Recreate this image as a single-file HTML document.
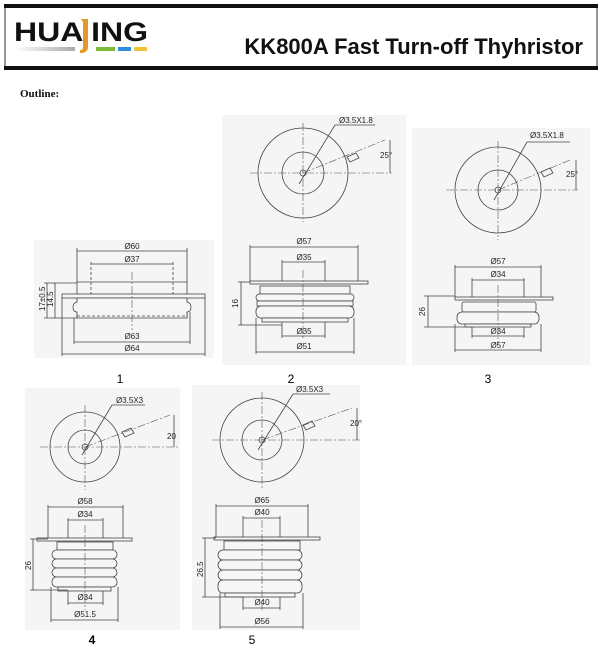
<!DOCTYPE html>
<html><head><meta charset="utf-8"><style>
html,body{margin:0;padding:0;background:#fff;width:602px;height:653px;overflow:hidden}
svg{display:block}
.d{font-family:"Liberation Sans",sans-serif;font-size:8px;fill:#222}
.s{fill:none;stroke:#444;stroke-width:0.8}
.c{fill:none;stroke:#555;stroke-width:0.6;stroke-dasharray:8 2 2 2}
.b{fill:#f6f6f6;stroke:#444;stroke-width:0.8}
.p{fill:#f5f5f5}
</style></head><body>
<svg width="602" height="653" viewBox="0 0 602 653" xmlns="http://www.w3.org/2000/svg">
<rect x="4" y="4" width="594" height="4" fill="#111"/>
<rect x="4" y="66" width="594" height="4" fill="#111"/>
<line x1="5" y1="8" x2="5" y2="66" stroke="#333" stroke-width="1"/>
<line x1="597" y1="8" x2="597" y2="66" stroke="#333" stroke-width="1"/>
<text x="14" y="41" font-family="Liberation Sans,sans-serif" font-weight="bold" font-size="27" fill="#111" textLength="134" lengthAdjust="spacingAndGlyphs">HUA ING</text>
<path d="M81 19 h7 v28 q0 5 -6 6 h-2 v-3 q3 0 3 -3 v-25 z" fill="#e39a2a"/>
<defs><linearGradient id="g" x1="0" x2="1"><stop offset="0" stop-color="#fff"/><stop offset="1" stop-color="#aaa"/></linearGradient></defs>
<rect x="15" y="47" width="60" height="4" fill="url(#g)"/>
<rect x="96" y="47" width="19" height="4" fill="#7fb93a"/>
<rect x="118" y="47" width="13" height="4" fill="#2a8fd6"/>
<rect x="134" y="47" width="13" height="4" fill="#f0c23a"/>
<text x="583" y="54" text-anchor="end" font-family="Liberation Sans,sans-serif" font-weight="bold" font-size="22" fill="#111">KK800A Fast Turn-off Thyhristor</text>
<text x="20" y="97" font-family="Liberation Serif,serif" font-weight="bold" font-size="11" fill="#111">Outline:</text>

<rect class="p" x="34" y="240" width="180" height="118"/>
<rect class="p" x="222" y="115" width="184" height="250"/>
<rect class="p" x="412" y="128" width="178" height="237"/>
<rect class="p" x="25" y="388" width="155" height="242"/>
<rect class="p" x="192" y="385" width="168" height="245"/>

<g>
<line class="s" x1="77" y1="251" x2="187" y2="251"/><line class="s" x1="77" y1="248" x2="77" y2="318"/><line class="s" x1="187" y1="248" x2="187" y2="318"/>
<text class="d" x="132" y="249" text-anchor="middle" font-size="6">Ø60</text>
<line class="s" x1="91" y1="264" x2="173" y2="264"/><line class="s" x1="91" y1="262" x2="91" y2="318" stroke-dasharray="3 2"/><line class="s" x1="173" y1="262" x2="173" y2="318" stroke-dasharray="3 2"/>
<text class="d" x="132" y="262" text-anchor="middle" font-size="6">Ø37</text>
<line class="s" x1="77" y1="282" x2="187" y2="282"/>
<rect class="b" x="62" y="294" width="143" height="4"/>
<path class="b" d="M77 298 h110 v4 q4 1 4 5 q0 5 -4 5 v6 h-110 v-6 q-4 0 -4 -5 q0 -4 4 -5 z"/>
<line class="s" x1="77" y1="316" x2="187" y2="316" stroke-dasharray="3 2"/>
<line class="c" x1="132" y1="272" x2="132" y2="330"/>
<line class="s" x1="74" y1="318" x2="74" y2="344"/><line class="s" x1="190" y1="312" x2="190" y2="344"/>
<line class="s" x1="74" y1="342" x2="190" y2="342"/><text class="d" x="132" y="339" text-anchor="middle" font-size="6">Ø63</text>
<line class="s" x1="62" y1="298" x2="62" y2="356"/><line class="s" x1="205" y1="298" x2="205" y2="356"/>
<line class="s" x1="62" y1="354" x2="205" y2="354"/><text class="d" x="132" y="351" text-anchor="middle" font-size="6">Ø64</text>
<line class="s" x1="44" y1="283" x2="77" y2="283"/><line class="s" x1="44" y1="318" x2="77" y2="318"/>
<line class="s" x1="47" y1="283" x2="47" y2="318"/><line class="s" x1="55" y1="283" x2="55" y2="318"/>
<text class="d" font-size="6" transform="translate(45,311) rotate(-90)">17±0.5</text>
<text class="d" font-size="6" transform="translate(53,307) rotate(-90)">14.5</text>
</g>
<text x="120" y="383" text-anchor="middle" font-family="Liberation Sans,sans-serif" font-size="12">1</text>

<g>
<circle class="s" cx="303" cy="173" r="45"/><circle class="s" cx="303" cy="173" r="21"/><circle class="s" cx="303" cy="173" r="3"/>
<line class="c" x1="250" y1="173" x2="392" y2="173"/><line class="c" x1="303" y1="123" x2="303" y2="222"/>
<line class="c" x1="303" y1="173" x2="385" y2="140"/>
<path class="s" d="M347 157 l9 -4 l3 5 l-9 4 z"/>
<line class="s" x1="299" y1="184" x2="335" y2="125"/><line class="s" x1="335" y1="125" x2="375" y2="125"/>
<text class="d" x="339" y="123">Ø3.5X1.8</text>
<line class="s" x1="390" y1="140" x2="390" y2="173"/>
<text class="d" x="380" y="158">25°</text>
<line class="s" x1="250" y1="247" x2="358" y2="247"/><line class="s" x1="250" y1="245" x2="250" y2="282"/><line class="s" x1="358" y1="245" x2="358" y2="282"/>
<text class="d" x="304" y="244" text-anchor="middle">Ø57</text>
<line class="s" x1="282" y1="262" x2="325" y2="262"/><line class="s" x1="282" y1="260" x2="282" y2="282"/><line class="s" x1="325" y1="260" x2="325" y2="282"/>
<text class="d" x="304" y="260" text-anchor="middle">Ø35</text>
<rect class="b" x="250" y="281" width="118" height="3"/>
<rect class="b" x="260" y="286" width="90" height="8"/>
<rect class="b" x="256" y="294" width="98" height="7" rx="3.5"/>
<rect class="b" x="257" y="301" width="96" height="5"/>
<rect class="b" x="256" y="306" width="98" height="12" rx="5"/>
<rect class="b" x="262" y="318" width="86" height="4"/>
<line class="c" x1="303" y1="270" x2="303" y2="340"/>
<line class="s" x1="238" y1="282" x2="250" y2="282"/><line class="s" x1="238" y1="325" x2="282" y2="325"/>
<line class="s" x1="241" y1="282" x2="241" y2="325"/>
<text class="d" font-size="9" transform="translate(238,308) rotate(-90)">16</text>
<line class="s" x1="282" y1="322" x2="282" y2="338"/><line class="s" x1="325" y1="322" x2="325" y2="338"/>
<line class="s" x1="282" y1="336" x2="325" y2="336"/><text class="d" x="304" y="334" text-anchor="middle">Ø35</text>
<line class="s" x1="256" y1="318" x2="256" y2="354"/><line class="s" x1="354" y1="318" x2="354" y2="354"/>
<line class="s" x1="256" y1="352" x2="354" y2="352"/><text class="d" x="304" y="349" text-anchor="middle">Ø51</text>
</g>
<text x="291" y="383" text-anchor="middle" font-family="Liberation Sans,sans-serif" font-size="12">2</text>

<g>
<circle class="s" cx="498" cy="190" r="43"/><circle class="s" cx="498" cy="190" r="20"/><circle class="s" cx="498" cy="190" r="3"/>
<line class="c" x1="446" y1="190" x2="578" y2="190"/><line class="c" x1="498" y1="141" x2="498" y2="240"/>
<line class="c" x1="498" y1="190" x2="570" y2="160"/>
<path class="s" d="M541 172 l9 -4 l3 5 l-9 4 z"/>
<line class="s" x1="494" y1="200" x2="527" y2="142"/><line class="s" x1="527" y1="142" x2="570" y2="142"/>
<text class="d" x="530" y="138">Ø3.5X1.8</text>
<line class="s" x1="576" y1="160" x2="576" y2="190"/>
<text class="d" x="566" y="177">25°</text>
<line class="s" x1="455" y1="267" x2="541" y2="267"/><line class="s" x1="455" y1="265" x2="455" y2="297"/><line class="s" x1="541" y1="265" x2="541" y2="297"/>
<text class="d" x="498" y="264" text-anchor="middle">Ø57</text>
<line class="s" x1="472" y1="280" x2="524" y2="280"/><line class="s" x1="472" y1="278" x2="472" y2="297"/><line class="s" x1="524" y1="278" x2="524" y2="297"/>
<text class="d" x="498" y="277" text-anchor="middle">Ø34</text>
<rect class="b" x="455" y="297" width="98" height="3"/>
<rect class="b" x="462" y="302" width="74" height="10" rx="2"/>
<rect class="b" x="457" y="312" width="82" height="12" rx="5"/>
<rect class="b" x="465" y="324" width="66" height="3"/>
<line class="c" x1="498" y1="285" x2="498" y2="345"/>
<line class="s" x1="424" y1="296" x2="455" y2="296"/><line class="s" x1="424" y1="327" x2="472" y2="327"/>
<line class="s" x1="428" y1="296" x2="428" y2="327"/>
<text class="d" font-size="9" transform="translate(425,316) rotate(-90)">26</text>
<line class="s" x1="472" y1="327" x2="472" y2="338"/><line class="s" x1="524" y1="327" x2="524" y2="338"/>
<line class="s" x1="472" y1="336" x2="524" y2="336"/><text class="d" x="498" y="334" text-anchor="middle">Ø34</text>
<line class="s" x1="455" y1="324" x2="455" y2="352"/><line class="s" x1="541" y1="324" x2="541" y2="352"/>
<line class="s" x1="455" y1="350" x2="541" y2="350"/><text class="d" x="498" y="348" text-anchor="middle">Ø57</text>
</g>
<text x="488" y="383" text-anchor="middle" font-family="Liberation Sans,sans-serif" font-size="12">3</text>

<g>
<circle class="s" cx="85" cy="447" r="35"/><circle class="s" cx="85" cy="447" r="17"/><circle class="s" cx="85" cy="447" r="3"/>
<line class="c" x1="40" y1="447" x2="178" y2="447"/><line class="c" x1="85" y1="405" x2="85" y2="490"/>
<line class="c" x1="85" y1="447" x2="170" y2="415"/>
<path class="s" d="M122 432 l9 -4 l3 5 l-9 4 z"/>
<line class="s" x1="82" y1="455" x2="112" y2="405"/><line class="s" x1="112" y1="405" x2="145" y2="405"/>
<text class="d" x="116" y="403" font-size="7">Ø3.5X3</text>
<line class="s" x1="174" y1="415" x2="174" y2="447"/>
<text class="d" x="167" y="439" font-size="7">20</text>
<line class="s" x1="48" y1="507" x2="123" y2="507"/><line class="s" x1="48" y1="505" x2="48" y2="539"/><line class="s" x1="123" y1="505" x2="123" y2="539"/>
<text class="d" x="85" y="504" text-anchor="middle" font-size="7">Ø58</text>
<line class="s" x1="68" y1="520" x2="103" y2="520"/><line class="s" x1="68" y1="518" x2="68" y2="539"/><line class="s" x1="103" y1="518" x2="103" y2="539"/>
<text class="d" x="85" y="517" text-anchor="middle" font-size="7">Ø34</text>
<rect class="b" x="37" y="538" width="95" height="3"/>
<rect class="b" x="57" y="542" width="56" height="8"/>
<rect class="b" x="52" y="550" width="65" height="9" rx="4.5"/>
<rect class="b" x="52" y="559" width="65" height="9" rx="4.5"/>
<rect class="b" x="52" y="568" width="65" height="9" rx="4.5"/>
<rect class="b" x="52" y="577" width="65" height="10" rx="4.5"/>
<rect class="b" x="58" y="587" width="53" height="4"/>
<line class="c" x1="85" y1="525" x2="85" y2="610"/>
<line class="s" x1="30" y1="539" x2="48" y2="539"/><line class="s" x1="30" y1="590" x2="68" y2="590"/>
<line class="s" x1="33" y1="539" x2="33" y2="590"/>
<text class="d" font-size="7" transform="translate(31,570) rotate(-90)">26</text>
<line class="s" x1="68" y1="591" x2="68" y2="605"/><line class="s" x1="103" y1="591" x2="103" y2="605"/>
<line class="s" x1="68" y1="603" x2="103" y2="603"/><text class="d" x="85" y="600" text-anchor="middle" font-size="7">Ø34</text>
<line class="s" x1="51" y1="587" x2="51" y2="622"/><line class="s" x1="118" y1="587" x2="118" y2="622"/>
<line class="s" x1="51" y1="620" x2="118" y2="620"/><text class="d" x="85" y="617" text-anchor="middle" font-size="7">Ø51.5</text>
</g>
<text x="92" y="644" text-anchor="middle" font-family="Liberation Sans,sans-serif" font-weight="bold" font-size="12">4</text>

<g>
<circle class="s" cx="262" cy="440" r="42"/><circle class="s" cx="262" cy="440" r="20"/><circle class="s" cx="262" cy="440" r="3"/>
<line class="c" x1="212" y1="440" x2="360" y2="440"/><line class="c" x1="262" y1="392" x2="262" y2="490"/>
<line class="c" x1="262" y1="440" x2="352" y2="408"/>
<path class="s" d="M303 425 l9 -4 l3 5 l-9 4 z"/>
<line class="s" x1="258" y1="450" x2="293" y2="394"/><line class="s" x1="293" y1="394" x2="330" y2="394"/>
<text class="d" x="296" y="392" font-size="7">Ø3.5X3</text>
<line class="s" x1="357" y1="408" x2="357" y2="440"/>
<text class="d" x="350" y="426" font-size="7">20°</text>
<line class="s" x1="216" y1="506" x2="308" y2="506"/><line class="s" x1="216" y1="504" x2="216" y2="538"/><line class="s" x1="308" y1="504" x2="308" y2="538"/>
<text class="d" x="262" y="503" text-anchor="middle" font-size="7">Ø65</text>
<line class="s" x1="243" y1="518" x2="280" y2="518"/><line class="s" x1="243" y1="516" x2="243" y2="538"/><line class="s" x1="280" y1="516" x2="280" y2="538"/>
<text class="d" x="262" y="515" text-anchor="middle" font-size="7">Ø40</text>
<rect class="b" x="214" y="537" width="106" height="3"/>
<rect class="b" x="224" y="541" width="76" height="9"/>
<rect class="b" x="218" y="550" width="84" height="10" rx="5"/>
<rect class="b" x="218" y="560" width="84" height="10" rx="5"/>
<rect class="b" x="218" y="570" width="84" height="10" rx="5"/>
<rect class="b" x="218" y="580" width="84" height="13" rx="5"/>
<rect class="b" x="225" y="593" width="70" height="4"/>
<line class="c" x1="262" y1="520" x2="262" y2="610"/>
<line class="s" x1="202" y1="538" x2="216" y2="538"/><line class="s" x1="202" y1="597" x2="243" y2="597"/>
<line class="s" x1="205" y1="538" x2="205" y2="597"/>
<text class="d" font-size="7" transform="translate(203,577) rotate(-90)">26.5</text>
<line class="s" x1="243" y1="597" x2="243" y2="610"/><line class="s" x1="280" y1="597" x2="280" y2="610"/>
<line class="s" x1="243" y1="608" x2="280" y2="608"/><text class="d" x="262" y="605" text-anchor="middle" font-size="7">Ø40</text>
<line class="s" x1="220" y1="593" x2="220" y2="629"/><line class="s" x1="303" y1="593" x2="303" y2="629"/>
<line class="s" x1="220" y1="627" x2="303" y2="627"/><text class="d" x="262" y="624" text-anchor="middle" font-size="7">Ø56</text>
</g>
<text x="252" y="644" text-anchor="middle" font-family="Liberation Sans,sans-serif" font-size="12">5</text>
</svg>
</body></html>
